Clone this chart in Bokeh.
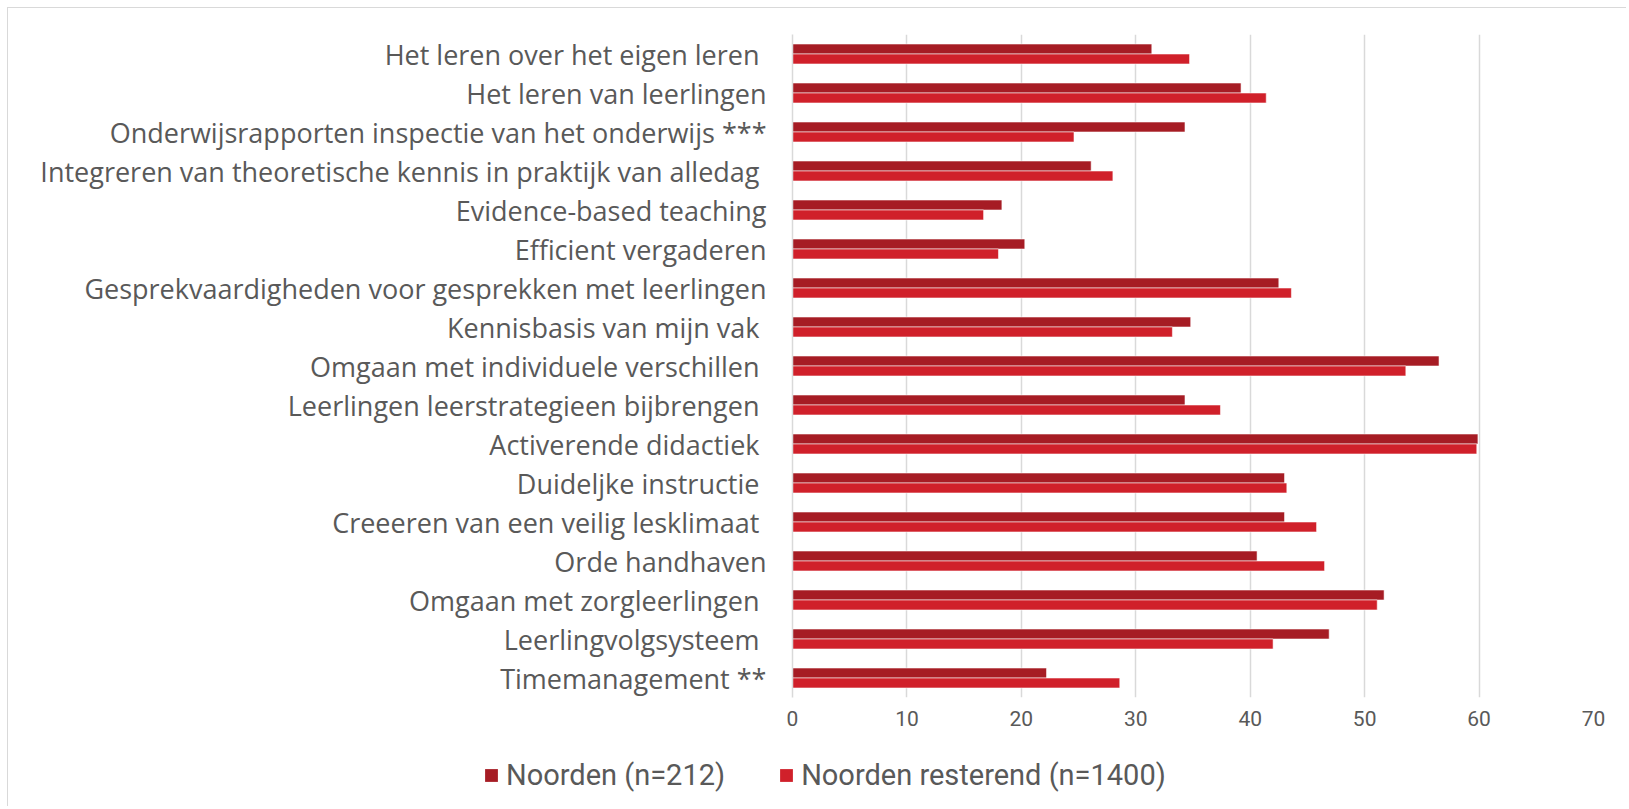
from bokeh.plotting import figure
from bokeh.models import (ColumnDataSource, FactorRange, Range1d, SingleIntervalTicker,
                          Legend, LegendItem)
from bokeh.transform import dodge
from bokeh.embed import file_html
from bokeh.resources import INLINE

categories = [
    "Het leren over het eigen leren ",
    "Het leren van leerlingen",
    "Onderwijsrapporten inspectie van het onderwijs ***",
    "Integreren van theoretische kennis in praktijk van alledag ",
    "Evidence-based teaching",
    "Efficient vergaderen",
    "Gesprekvaardigheden voor gesprekken met leerlingen",
    "Kennisbasis van mijn vak ",
    "Omgaan met individuele verschillen ",
    "Leerlingen leerstrategieen bijbrengen ",
    "Activerende didactiek ",
    "Duideljke instructie ",
    "Creeeren van een veilig lesklimaat ",
    "Orde handhaven",
    "Omgaan met zorgleerlingen ",
    "Leerlingvolgsysteem ",
    "Timemanagement **",
]
noorden = [31.4, 39.2, 34.3, 26.1, 18.3, 20.3, 42.5, 34.8, 56.5, 34.3, 59.9, 43.0, 43.0, 40.6, 51.7, 46.9, 22.2]
resterend = [34.7, 41.4, 24.6, 28.0, 16.7, 18.0, 43.6, 33.2, 53.6, 37.4, 59.8, 43.2, 45.8, 46.5, 51.1, 42.0, 28.6]
series_names = ["Noorden (n=212)", "Noorden resterend (n=1400)"]
x_ticks_interval = 10

DARK = "#A61C24"
LIGHT = "#D0202A"
TEXT = "#595959"
GRID = "#D9D9D9"

source = ColumnDataSource(dict(cat=categories, dark=noorden, light=resterend))

p = figure(width=1619, height=745, output_backend="svg", toolbar_location=None,
           y_range=FactorRange(factors=list(reversed(categories))),
           x_range=Range1d(0, 70),
           min_border_left=784, min_border_right=34, min_border_top=26, min_border_bottom=56)
p.styles = {"margin-left": "7px", "margin-top": "7px",
            "border-top": "1px solid #D9D9D9", "border-left": "1px solid #D9D9D9"}
p.outline_line_color = None
p.background_fill_color = "white"
p.border_fill_color = "white"

bh = 0.256
r1 = p.hbar(y=dodge("cat", bh / 2, range=p.y_range), left=0, right="dark", height=bh,
            source=source, fill_color=DARK, line_color="white", line_alpha=0.55, line_width=1)
r2 = p.hbar(y=dodge("cat", -bh / 2, range=p.y_range), left=0, right="light", height=bh,
            source=source, fill_color=LIGHT, line_color="white", line_alpha=0.55, line_width=1)

# x axis
p.xaxis.ticker = SingleIntervalTicker(interval=x_ticks_interval)
p.xaxis.axis_line_color = None
p.xaxis.major_tick_line_color = None
p.xaxis.minor_tick_line_color = None
p.xaxis.major_label_text_font = "Roboto"
p.xaxis.major_label_text_font_size = "21px"
p.xaxis.major_label_text_color = TEXT
p.xaxis.major_label_standoff = 7

# y axis
p.yaxis.axis_line_color = GRID
p.yaxis.axis_line_width = 1.5
p.yaxis.major_tick_line_color = None
p.yaxis.minor_tick_line_color = None
p.yaxis.major_label_text_font = "Open Sans"
p.yaxis.major_label_text_font_size = "27px"
p.yaxis.major_label_text_color = TEXT
p.yaxis.major_label_standoff = 20

p.xgrid.grid_line_color = GRID
p.xgrid.grid_line_width = 1.5
p.ygrid.grid_line_color = None

# legend strip below the chart (separate root so its frame spans the full width)
q = figure(width=1619, height=54, output_backend="svg", toolbar_location=None,
           x_range=Range1d(0, 1), y_range=Range1d(0, 1),
           x_axis_type=None, y_axis_type=None,
           min_border_left=0, min_border_right=0, min_border_top=0, min_border_bottom=0)
q.styles = {"margin-left": "7px", "border-left": "1px solid #D9D9D9"}
q.outline_line_color = None
q.xgrid.grid_line_color = None
q.ygrid.grid_line_color = None
q.border_fill_color = "white"
q.background_fill_color = "white"
lr1 = q.hbar(y=[5], left=[4], right=[5], height=0.5, fill_color=DARK, line_color=None)
lr2 = q.hbar(y=[5], left=[4], right=[5], height=0.5, fill_color=LIGHT, line_color=None)

legend = Legend(items=[LegendItem(label=series_names[0], renderers=[lr1]),
                       LegendItem(label=series_names[1], renderers=[lr2])],
                orientation="horizontal", location=(475, 14),
                glyph_width=16, glyph_height=16, label_standoff=7, spacing=53,
                padding=0, margin=0, border_line_color=None, background_fill_alpha=0,
                label_text_font="Roboto", label_text_font_size="29px",
                label_text_color=TEXT)
q.add_layout(legend, "center")

open("out.html", "w").write(file_html([p, q], INLINE))
